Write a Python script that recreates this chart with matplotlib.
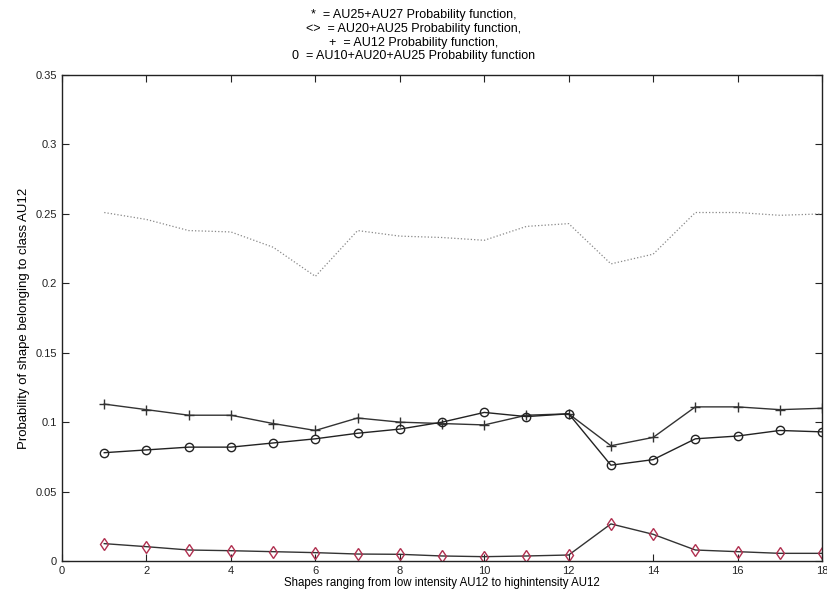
import matplotlib
matplotlib.use("Agg")
import matplotlib.pyplot as plt
import numpy as np

plt.rcParams["font.family"] = ["Liberation Sans", "DejaVu Sans"]

shapes = np.arange(1, 19)

# AU25+AU27 (faint dotted line near 0.25)
p_au25_au27 = [0.251, 0.246, 0.238, 0.237, 0.226, 0.205, 0.238, 0.234, 0.233,
               0.231, 0.241, 0.243, 0.214, 0.221, 0.251, 0.251, 0.249, 0.250]
# AU12 (+ markers)
p_au12 = [0.113, 0.109, 0.105, 0.105, 0.099, 0.094, 0.103, 0.100, 0.099,
          0.098, 0.105, 0.106, 0.083, 0.089, 0.111, 0.111, 0.109, 0.110]
# AU10+AU20+AU25 (o markers)
p_au10_au20_au25 = [0.078, 0.080, 0.082, 0.082, 0.085, 0.088, 0.092, 0.095, 0.100,
                    0.107, 0.104, 0.106, 0.069, 0.073, 0.088, 0.090, 0.094, 0.093]
# AU20+AU25 (diamond markers)
p_au20_au25 = [0.0125, 0.0103, 0.0079, 0.0074, 0.0067, 0.0060, 0.0050, 0.0048, 0.0036,
               0.0031, 0.0036, 0.0043, 0.0267, 0.0192, 0.0079, 0.0067, 0.0055, 0.0055]

title_lines = [
    "*  = AU25+AU27 Probability function,",
    "<>  = AU20+AU25 Probability function,",
    "+  = AU12 Probability function,",
    "0  = AU10+AU20+AU25 Probability function",
]

fig = plt.figure(figsize=(8.27, 5.94), dpi=100)
ax = fig.add_axes([0.075, 0.0556, 0.919, 0.818])

ax.plot(shapes, p_au25_au27, linestyle=":", color="#888888", linewidth=0.9)
ax.plot(shapes, p_au12, color="#333333", linewidth=1.0, marker="+", markersize=7,
        markeredgewidth=1.0)
ax.plot(shapes, p_au10_au20_au25, color="#222222", linewidth=1.0, marker="o",
        markersize=6, markerfacecolor="none", markeredgewidth=1.0)
ax.plot(shapes, p_au20_au25, color="#333333", linewidth=1.0, marker="d",
        markersize=6, markerfacecolor="none", markeredgecolor="#b03050",
        markeredgewidth=1.0)

ax.set_xlim(0, 18)
ax.set_ylim(0, 0.35)
ax.set_xticks(np.arange(0, 19, 2))
ax.set_yticks(np.arange(0, 0.351, 0.05))
ax.set_yticklabels(["0", "0.05", "0.1", "0.15", "0.2", "0.25", "0.3", "0.35"])
ax.tick_params(direction="in", top=True, right=True, labelsize=8, length=5,
               colors="#222222")
for s in ax.spines.values():
    s.set_linewidth(1.0)
    s.set_color("#222222")

ax.set_xlabel("Shapes ranging from low intensity AU12 to highintensity AU12",
              fontsize=8.3, labelpad=1)
ax.set_ylabel("Probability of shape belonging to class AU12", fontsize=9.5,
              labelpad=4)

fig.text(0.5, 0.985, "\n".join(title_lines), ha="center", va="top",
         fontsize=9, linespacing=1.2)

fig.savefig("out.png", dpi=100)
